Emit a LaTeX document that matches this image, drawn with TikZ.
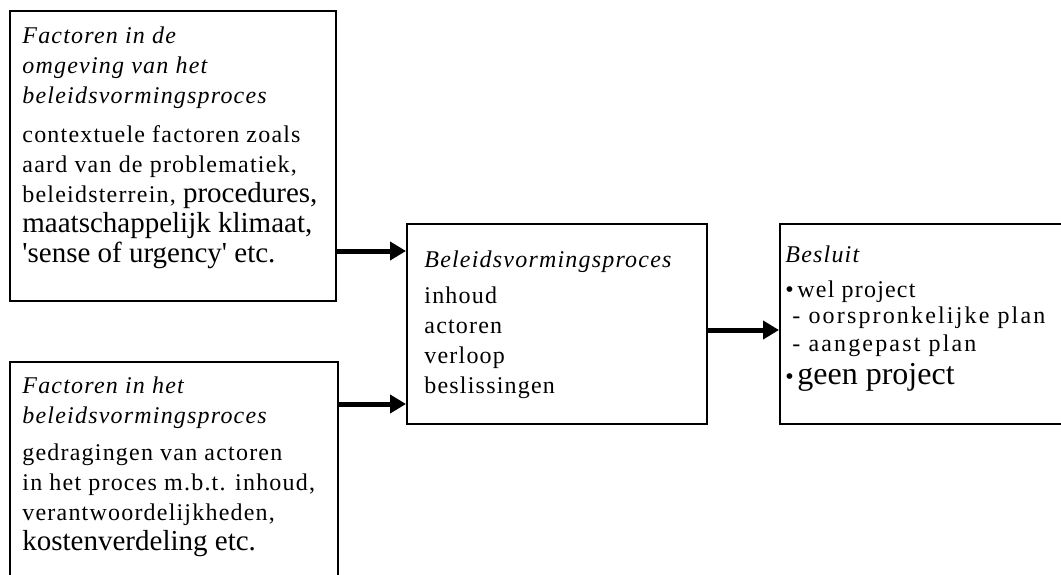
\documentclass[tikz,border=0pt]{standalone}
\usepackage{fontspec}
\setmainfont[LetterSpace=5]{Liberation Serif}
\newfontfamily\plainserif{Liberation Serif}
\newfontfamily\widserif[LetterSpace=9]{Liberation Serif}
\usepackage{tikz}
\usetikzlibrary{arrows.meta,positioning}
\newcommand{\bigtxt}[1]{{\plainserif\fontsize{14.5}{15}\selectfont #1}}
\tikzstyle{arrow} = [line width=2.5pt,-{Triangle[width=9pt,length=8pt]},color=black]
\tikzstyle{factorbox} = [rectangle, draw=black, line width=1pt, anchor=north west, inner sep=0pt]
\tikzstyle{boxtext} = [inner sep=0pt, anchor=base west, font=\fontsize{12}{15}\selectfont]

\begin{document}
\begin{tikzpicture}[x=0.5pt,y=-0.5pt]
\useasboundingbox (0,0) rectangle (1061,574);
% Boxes
\node[factorbox, minimum width=163pt, minimum height=145pt] (omgeving) at (9,10) {};
\node[factorbox, minimum width=164pt, minimum height=125pt] (intern) at (9,361) {};
\node[factorbox, minimum width=150pt, minimum height=100pt] (proces) at (406,223) {};
\node[factorbox, minimum width=170pt, minimum height=100pt] (besluit) at (779,223) {};

% Texts
\node[boxtext] (omgevingtxt) at (22,43) {\begin{tabular}[t]{@{}l@{}}
\textit{Factoren in de}\\
\textit{omgeving van het}\\
\textit{beleidsvormingsproces}\\[4.5pt]
contextuele factoren zoals\\
aard van de problematiek,\\
beleidsterrein, \bigtxt{procedures,}\\
\bigtxt{maatschappelijk klimaat,}\\
\bigtxt{\textquotesingle sense of urgency\textquotesingle{} etc.}
\end{tabular}};
\node[boxtext] (interntxt) at (22,393) {\begin{tabular}[t]{@{}l@{}}
\textit{Factoren in het}\\
\textit{beleidsvormingsproces}\\[3.5pt]
gedragingen van actoren\\
in het proces m.b.t. inhoud,\\
verantwoordelijkheden,\\
\bigtxt{kostenverdeling etc.}
\end{tabular}};
\node[boxtext] (procestxt) at (424,267) {\begin{tabular}[t]{@{}l@{}}
\textit{Beleidsvormingsproces}\\[3pt]
inhoud\\
actoren\\
verloop\\
beslissingen
\end{tabular}};
\node[boxtext, font=\fontsize{12}{14}\selectfont] (besluittxt) at (785,262) {\begin{tabular}[t]{@{}l@{}}
\textit{Besluit}\\[3.5pt]
•\kern1.8pt wel project\\[-1pt]
\hspace*{3.5pt}{\widserif - oorspronkelijke plan}\\
\hspace*{3.5pt}{\widserif - aangepast plan}\\[2pt]
•\kern1.8pt{\plainserif\fontsize{16}{15}\selectfont geen project}
\end{tabular}};

% Connections
\coordinate (in1) at (406,251);
\coordinate (in2) at (406,404);
\coordinate (in3) at (779,330);
\draw[arrow] (omgeving.east |- in1) -- (in1);
\draw[arrow] (intern.east |- in2) -- (in2);
\draw[arrow] (proces.east |- in3) -- (in3);
\end{tikzpicture}
\end{document}
